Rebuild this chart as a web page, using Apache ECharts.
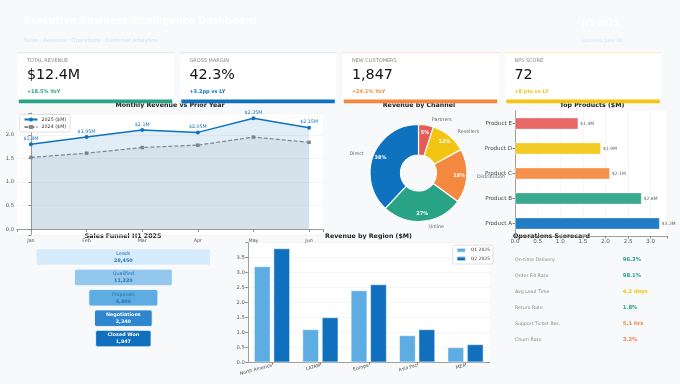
<!DOCTYPE html>
<html>
<head>
<meta charset="utf-8">
<script src="https://cdn.jsdelivr.net/npm/echarts@6/dist/echarts.min.js"></script>
<style>
html,body{margin:0;padding:0;background:#f8f9fb;}
#main{width:680px;height:384px;}
</style>
</head>
<body>
<div id="main"></div>
<script>
var months = ['Jan', 'Feb', 'Mar', 'Apr', 'May', 'Jun'];
var rev2025 = [1.8, 1.95, 2.1, 2.05, 2.35, 2.15];
var rev2024 = [1.52, 1.61, 1.73, 1.78, 1.95, 1.84];

var channels = ['Partners', 'Resellers', 'Distribution', 'Online', 'Direct'];
var channelShare = [5, 12, 18, 27, 38];

var products = ['Product A', 'Product B', 'Product C', 'Product D', 'Product E'];
var productRev = [3.2, 2.8, 2.1, 1.9, 1.4];

var funnelStages = ['Leads', 'Qualified', 'Proposals', 'Negotiations', 'Closed Won'];
var funnelCounts = [28450, 11320, 4890, 2340, 1847];

var regions = ['North America', 'LATAM', 'Europe', 'Asia Pac', 'MEA'];
var q1Rev = [3.2, 1.1, 2.4, 0.9, 0.5];
var q2Rev = [3.8, 1.5, 2.6, 1.1, 0.6];

var kpiLabels = ['TOTAL REVENUE', 'GROSS MARGIN', 'NEW CUSTOMERS', 'NPS SCORE'];
var kpiValues = ['$12.4M', '42.3%', '1,847', '72'];
var kpiDeltas = ['+18.5% YoY', '+3.2pp vs LY', '+24.1% YoY', '+8 pts vs LY'];

var opsMetrics = ['On-time Delivery', 'Order Fill Rate', 'Avg Lead Time', 'Return Rate', 'Support Ticket Res.', 'Churn Rate'];
var opsValues = ['96.3%', '98.1%', '4.2 days', '1.8%', '5.1 hrs', '3.2%'];

var BLUE = '#0f72bf', TEAL = '#28a385', ORANGE = '#f5883f', YELLOW = '#f3c512', RED = '#e55b58', LBLUE = '#5dade2';
var FONT = 'DejaVu Sans';
var kpiColors = [TEAL, BLUE, ORANGE, YELLOW];
var kpiTops = ['#d3ece5', '#d2e3f2', '#fde2d2', '#fbeebd'];
var channelColors = [RED, YELLOW, ORANGE, TEAL, BLUE];
var productColors = [BLUE, TEAL, ORANGE, YELLOW, RED];
var funnelColors = ['#d6ebfb', '#93c7ee', '#5dade2', '#2e86cf', '#1170bd'];
var opsColors = [TEAL, TEAL, YELLOW, TEAL, ORANGE, '#f07f5a'];

var myChart = echarts.init(document.getElementById('main'));

function txt(x, y, s, size, color, weight, align) {
    return {
        type: 'text', x: x, y: y,
        style: {
            text: s, fill: color, fontSize: size, fontFamily: FONT,
            fontWeight: weight || 'normal', align: align || 'left', verticalAlign: 'middle'
        }
    };
}
function halfTicks(v) {
    return Math.abs(v * 2 - Math.round(v * 2)) < 1e-6 ? v.toFixed(1) : '';
}

var graphics = [];
// header
graphics.push(txt(24, 21, 'Executive Business Intelligence Dashboard', 9.6, '#ffffff', 'bold'));
graphics.push(txt(24, 40.5, 'Sales · Revenue · Operations · Customer Analytics', 5.3, '#cfe5f6'));
graphics.push(txt(582, 23.5, 'H1 2025', 8, '#ffffff', 'bold'));
graphics.push(txt(582, 40.5, 'Updated: June 30', 4.6, '#cfe5f6'));
// chart titles
graphics.push(txt(170, 105.6, 'Monthly Revenue vs Prior Year', 6.3, '#222', 'bold', 'center'));
graphics.push(txt(419, 105.6, 'Revenue by Channel', 6.3, '#222', 'bold', 'center'));
graphics.push(txt(592, 105.6, 'Top Products ($M)', 6.3, '#222', 'bold', 'center'));
graphics.push(txt(123, 236, 'Sales Funnel H1 2025', 6.3, '#222', 'bold', 'center'));
graphics.push(txt(368.5, 236, 'Revenue by Region ($M)', 6.3, '#222', 'bold', 'center'));
graphics.push(txt(513, 236, 'Operations Scorecard', 6.3, '#222', 'bold'));
// kpi cards
kpiLabels.forEach(function (lab, i) {
    var x0 = 17.3 + i * 162.5;
    graphics.push({ type: 'rect', shape: { x: x0, y: 52.7, width: 156.5, height: 47 }, style: { fill: '#fff' } });
    graphics.push({ type: 'rect', shape: { x: x0, y: 52.2, width: 156.5, height: 1 }, style: { fill: kpiTops[i] } });
    graphics.push({ type: 'rect', shape: { x: x0 + 1.5, y: 99.5, width: 153.5, height: 3.8 }, style: { fill: kpiColors[i] } });
    graphics.push(txt(x0 + 9.6, 60.5, lab, 5, '#888'));
    graphics.push(txt(x0 + 9.6, 75.5, kpiValues[i], 14.3, '#111'));
    graphics.push(txt(x0 + 9.6, 91.6, kpiDeltas[i], 5, kpiColors[i], 'bold'));
});
// operations scorecard
opsMetrics.forEach(function (m, i) {
    var y = 259.7 + i * 16.05;
    graphics.push(txt(515, y, m, 4.7, '#888'));
    graphics.push(txt(622.7, y, opsValues[i], 5.3, opsColors[i], 'bold'));
});

var maxLead = funnelCounts[0];

var opt = {
    animation: false,
    backgroundColor: '#f8f9fb',
    textStyle: { fontFamily: FONT },
    graphic: { elements: graphics },
    legend: [
        {
            data: ['2025 ($M)', '2024 ($M)'],
            orient: 'vertical', left: 19.5, top: 114.5,
            backgroundColor: '#fff', borderColor: '#ccc', borderWidth: 0.6, borderRadius: 2,
            padding: [2.5, 4], itemGap: 2.5, itemWidth: 13, itemHeight: 5,
            textStyle: { fontSize: 4.8, color: '#333', fontFamily: FONT, padding: [0, 0, 0, -1] }
        },
        {
            data: ['Q1 2025', 'Q2 2025'],
            orient: 'vertical', right: 187, top: 245,
            backgroundColor: '#fff', borderColor: '#ccc', borderWidth: 0.6, borderRadius: 2,
            padding: [2, 3], itemGap: 2, itemWidth: 9, itemHeight: 4.5,
            textStyle: { fontSize: 4.5, color: '#333', fontFamily: FONT }
        }
    ],
    grid: [
        { left: 17, right: 357, top: 113, bottom: 149, show: true, backgroundColor: '#fff', borderWidth: 0 },
        { left: 515, right: 13, top: 111, bottom: 148, show: true, backgroundColor: '#fff', borderWidth: 0 },
        { left: 36, right: 469.3, top: 246.8, height: 102 },
        { left: 247.8, right: 190.3, top: 242.7, bottom: 21.7, show: true, backgroundColor: '#fff', borderWidth: 0 }
    ],
    xAxis: [
        {
            gridIndex: 0, type: 'value', min: -0.25, max: 5.25,
            axisLine: { lineStyle: { color: '#888', width: 0.8 } },
            axisTick: { show: true, length: 2.5, lineStyle: { color: '#888' } },
            splitLine: { show: false },
            axisLabel: {
                fontSize: 4.8, color: '#555', margin: 3,
                formatter: function (v) { return Number.isInteger(v) ? months[v] : ''; }
            }
        },
        {
            gridIndex: 1, type: 'value', min: 0, max: 3.36, interval: 0.5,
            axisLine: { show: true, lineStyle: { color: '#888', width: 0.8 } },
            axisTick: { show: true, length: 2.5, lineStyle: { color: '#888' } },
            splitLine: { show: true, lineStyle: { color: '#eee', width: 0.6 } },
            axisLabel: { fontSize: 5.6, color: '#555', margin: 2.5, formatter: halfTicks }
        },
        { gridIndex: 2, type: 'value', min: 0, max: 1, show: false },
        {
            gridIndex: 3, type: 'category', data: regions,
            axisLine: { lineStyle: { color: '#888', width: 0.8 } },
            axisTick: { show: true, alignWithLabel: true, length: 2.5, lineStyle: { color: '#888' } },
            axisLabel: { fontSize: 4.6, color: '#555', rotate: 15, margin: 3, interval: 0 }
        }
    ],
    yAxis: [
        {
            gridIndex: 0, type: 'value', min: -0.12, max: 2.46,
            axisLine: { show: true, lineStyle: { color: '#888', width: 0.8 } },
            axisTick: { show: true, length: 2.5, lineStyle: { color: '#888' } },
            splitLine: { show: true, lineStyle: { color: '#eee', width: 0.6 } },
            axisLabel: { fontSize: 5.2, color: '#555', margin: 3, formatter: halfTicks }
        },
        {
            gridIndex: 1, type: 'category', data: products,
            axisLine: { show: true, lineStyle: { color: '#888', width: 0.8 } },
            axisTick: { show: true, alignWithLabel: true, length: 2.5, lineStyle: { color: '#888' } },
            axisLabel: { fontSize: 5.6, color: '#444', margin: 3 }
        },
        { gridIndex: 2, type: 'category', data: funnelStages, inverse: true, show: false },
        {
            gridIndex: 3, type: 'value', min: 0, max: 3.99, interval: 0.5,
            axisLine: { show: true, lineStyle: { color: '#888', width: 0.8 } },
            axisTick: { show: true, length: 2.5, lineStyle: { color: '#888' } },
            splitLine: { show: true, lineStyle: { color: '#eee', width: 0.6 } },
            axisLabel: { fontSize: 5.2, color: '#555', margin: 3, formatter: halfTicks }
        }
    ],
    series: [
        {
            name: '2025 ($M)', type: 'line', xAxisIndex: 0, yAxisIndex: 0,
            data: rev2025.map(function (v, i) { return [i, v]; }),
            color: BLUE, symbol: 'circle', symbolSize: 4,
            lineStyle: { width: 1.5, color: BLUE },
            areaStyle: { color: 'rgba(15,114,191,0.18)' },
            label: {
                show: true, position: 'top', distance: 1, fontSize: 4.8, color: BLUE,
                formatter: function (p) { return '$' + p.value[1] + 'M'; }
            },
            z: 3
        },
        {
            name: '2024 ($M)', type: 'line', xAxisIndex: 0, yAxisIndex: 0,
            data: rev2024.map(function (v, i) { return [i, v]; }),
            color: '#888', symbol: 'rect', symbolSize: 3.5,
            lineStyle: { width: 1.2, color: '#888', type: [4, 2] },
            areaStyle: { color: 'rgba(128,128,128,0.15)' },
            z: 2
        },
        {
            type: 'pie', center: [418.5, 173], radius: [18, 48.5], startAngle: 90,
            avoidLabelOverlap: false,
            data: channels.map(function (c, i) { return { name: c, value: channelShare[i], itemStyle: { color: channelColors[i] } }; }),
            itemStyle: { borderColor: '#fff', borderWidth: 1.2 },
            label: { show: true, position: 'outside', fontSize: 4.8, color: '#666', fontFamily: FONT },
            labelLine: { show: false, length: 5, length2: 0 },
            emphasis: { disabled: true }
        },
        {
            type: 'pie', center: [418.5, 173], radius: [0, 75.8], startAngle: 90, silent: true,
            data: channels.map(function (c, i) { return { name: c, value: channelShare[i] }; }),
            itemStyle: { color: 'rgba(0,0,0,0)' },
            label: { show: true, position: 'inside', formatter: '{c}%', fontSize: 5, fontWeight: 'bold', color: '#fff' },
            labelLine: { show: false }
        },
        {
            type: 'bar', xAxisIndex: 1, yAxisIndex: 1, barWidth: 12,
            data: productRev.map(function (v, i) { return { value: v, itemStyle: { color: productColors[i] } }; }),
            itemStyle: { borderColor: 'rgba(255,255,255,0.5)', borderWidth: 0.8, opacity: 0.92 },
            label: {
                show: true, position: 'right', distance: 2, fontSize: 4.5, color: '#555',
                formatter: function (p) { return '$' + p.value + 'M'; }
            }
        },
        {
            type: 'custom', xAxisIndex: 2, yAxisIndex: 2,
            data: funnelCounts.map(function (v, i) { return [i, v]; }),
            encode: { y: 0, x: 1 },
            renderItem: function (params, api) {
                var i = api.value(0), v = api.value(1);
                var frac = 0.27 + 0.73 * v / maxLead;
                var c = api.coord([0.5, i]);
                var w = api.size([1, 0])[0] * frac;
                var h = api.size([0, 1])[1] * 0.81;
                var dark = i >= 3;
                return {
                    type: 'rect',
                    shape: { x: c[0] - w / 2, y: c[1] - h / 2, width: w, height: h, r: 2 },
                    style: { fill: funnelColors[i], stroke: 'rgba(255,255,255,0.8)', lineWidth: 1 },
                    textContent: {
                        style: {
                            text: '{n|' + funnelStages[i] + '}\n{v|' + v.toLocaleString('en-US') + '}',
                            rich: {
                                n: { fontSize: 4.8, fontFamily: FONT, fontWeight: dark ? 'bold' : 'normal', fill: dark ? '#fff' : '#2a6fb0', lineHeight: 7 },
                                v: { fontSize: 4.8, fontFamily: FONT, fontWeight: 'bold', fill: dark ? '#fff' : '#2a6fb0', lineHeight: 7 }
                            },
                            align: 'center'
                        }
                    },
                    textConfig: { position: 'inside' }
                };
            }
        },
        {
            name: 'Q1 2025', type: 'bar', xAxisIndex: 3, yAxisIndex: 3, data: q1Rev,
            barWidth: 16.5, barGap: '18%', color: LBLUE,
            itemStyle: { color: LBLUE, borderColor: 'rgba(255,255,255,0.6)', borderWidth: 0.8 }
        },
        {
            name: 'Q2 2025', type: 'bar', xAxisIndex: 3, yAxisIndex: 3, data: q2Rev,
            barWidth: 16.5, barGap: '18%', color: '#1170bd',
            itemStyle: { color: '#1170bd', borderColor: 'rgba(255,255,255,0.6)', borderWidth: 0.8 }
        }
    ]
};
myChart.setOption(opt);
</script>
</body>
</html>
